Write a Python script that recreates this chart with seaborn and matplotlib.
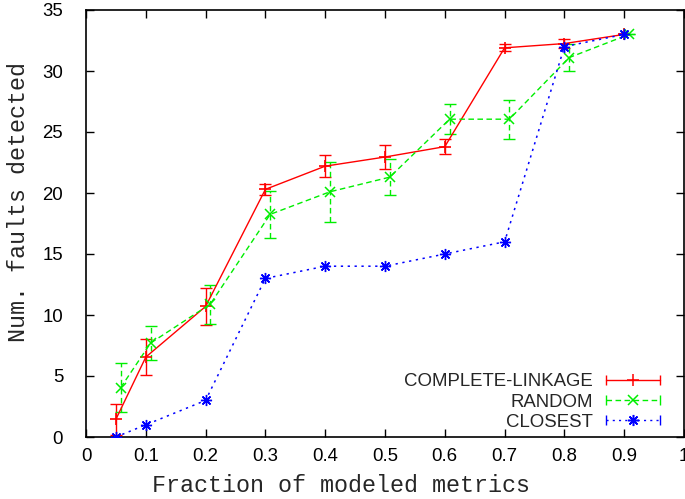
import numpy as np
import matplotlib
matplotlib.use("Agg")
import matplotlib.pyplot as plt
import seaborn as sns
from matplotlib.lines import Line2D
from matplotlib.legend_handler import HandlerBase

# ---- data ----
fractions = [0.05, 0.1, 0.2, 0.3, 0.4, 0.5, 0.6, 0.7, 0.8, 0.9]
random_offset = 0.008
complete_mean = [1.45, 6.55, 10.7, 20.3, 22.2, 22.95, 23.8, 31.9, 32.25, 33.0]
complete_err = [1.25, 1.45, 1.55, 0.45, 0.9, 1.0, 0.6, 0.3, 0.35, 0.0]
random_mean = [4.05, 7.7, 10.9, 18.25, 20.1, 21.3, 26.05, 26.05, 31.1, 33.0]
random_err = [2.0, 1.4, 1.6, 1.95, 2.45, 1.45, 1.25, 1.6, 1.1, 0.0]
closest = [0, 1, 3, 13, 14, 14, 15, 16, 32, 33]
series_names = ["COMPLETE-LINKAGE", "RANDOM", "CLOSEST"]
xticks = [0, 0.1, 0.2, 0.3, 0.4, 0.5, 0.6, 0.7, 0.8, 0.9, 1.0]
xtick_labels = ["0", "0.1", "0.2", "0.3", "0.4", "0.5", "0.6", "0.7", "0.8", "0.9", "1"]
yticks = [0, 5, 10, 15, 20, 25, 30, 35]

sns.set_style("ticks")
plt.rcParams["font.family"] = ["Liberation Sans", "DejaVu Sans"]

RED, GREEN, BLUE = "#ff0000", "#00ee00", "#0000ff"
DASH = (0, (4, 2.5))
DOT = (0, (1.5, 3))

fig = plt.figure(figsize=(6.85, 4.99), dpi=100)
ax = fig.add_axes([86 / 685, 62 / 499, 598 / 685, 427 / 499])

rx = [f + random_offset for f in fractions]

# COMPLETE-LINKAGE
ax.errorbar(fractions, complete_mean, yerr=complete_err, fmt="none", ecolor=RED,
            elinewidth=1.0, capsize=4, capthick=1.0, zorder=2)
sns.lineplot(x=fractions, y=complete_mean, ax=ax, color=RED, linewidth=1.0,
             marker="+", markersize=8, markeredgewidth=1.2, markeredgecolor=RED,
             zorder=3, legend=False)

# RANDOM
eb = ax.errorbar(rx, random_mean, yerr=random_err, fmt="none", ecolor=GREEN,
                 elinewidth=1.0, capsize=4, capthick=1.0, zorder=2)
for lc in eb[2]:
    lc.set_linestyle(DASH)
sns.lineplot(x=rx, y=random_mean, ax=ax, color=GREEN, linewidth=1.0, linestyle=DASH,
             marker="x", markersize=7, markeredgewidth=1.1, markeredgecolor=GREEN,
             zorder=3, legend=False)

# CLOSEST
sns.lineplot(x=fractions, y=closest, ax=ax, color=BLUE, linewidth=1.1, linestyle=DOT,
             marker=(8, 2, 0), markersize=8, markeredgewidth=1.0, markeredgecolor=BLUE,
             zorder=4, legend=False)

ax.set_xlim(0, 1)
ax.set_ylim(0, 35)
ax.set_xticks(xticks)
ax.set_xticklabels(xtick_labels)
ax.set_yticks(yticks)
ax.tick_params(axis="both", direction="in", length=6, width=1.0, top=True, right=True,
               labelsize=13.4, colors="black")
ax.tick_params(axis="y", pad=16.5)
ax.tick_params(axis="x", pad=8)
for s in ax.spines.values():
    s.set_visible(True)
    s.set_linewidth(1.2)
    s.set_color("black")

ax.set_xlabel("Fraction of modeled metrics", family=["Liberation Mono", "DejaVu Sans Mono"],
              fontsize=16.8)
ax.xaxis.set_label_coords((341 - 86) / 598, (437 - 474) / 427)
ax.set_ylabel("Num. faults detected", family=["Liberation Mono", "DejaVu Sans Mono"],
              fontsize=16.8)
ax.yaxis.set_label_coords((30 - 86) / 598, (437 - 202) / 427)


class GnuHandler(HandlerBase):
    def create_artists(self, legend, orig_handle, xdescent, ydescent, width, height,
                       fontsize, trans):
        color, ls, marker, ms = orig_handle
        y = height / 2 - ydescent
        x0, x1 = -xdescent, width - xdescent
        line = Line2D([x0, x1], [y, y], color=color, linestyle=ls, linewidth=1.0)
        caps = Line2D([x0, x1], [y, y], color=color, linestyle="none", marker="|",
                      markersize=7, markeredgewidth=1.0)
        mid = Line2D([(x0 + x1) / 2], [y], color=color, linestyle="none", marker=marker,
                     markersize=ms, markeredgewidth=1.1)
        arts = [line, caps, mid]
        for a in arts:
            a.set_transform(trans)
        return arts


handles = [(RED, "-", "+", 8), (GREEN, DASH, "x", 7), (BLUE, DOT, (8, 2, 0), 8)]
leg = ax.legend(handles, series_names, handler_map={tuple: GnuHandler()},
                loc="center right", bbox_to_anchor=((660 - 86) / 598, (437 - 402) / 427),
                frameon=False, markerfirst=False, fontsize=13.4, handlelength=2.9,
                handletextpad=0.7, labelspacing=0.17, borderpad=0, borderaxespad=0)

fig.savefig("out.png", dpi=100)
